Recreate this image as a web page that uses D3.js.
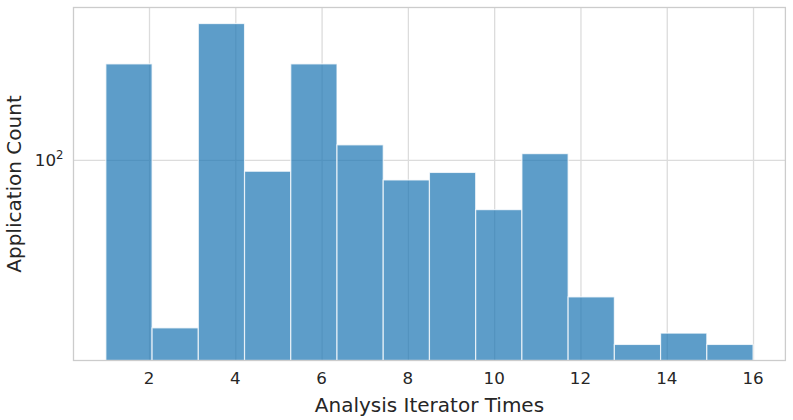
<!DOCTYPE html>
<html>
<head>
<meta charset="utf-8">
<script src="https://cdn.jsdelivr.net/npm/d3@7"></script>
<style>
  body { margin: 0; background: #fff; }
  text { font-family: "DejaVu Sans", sans-serif; fill: #262626; }
</style>
</head>
<body>
<svg id="chart" width="793" height="420"></svg>
<script>
// histogram data (log y axis)
var binStart = 1;
var binEnd = 16;
var counts = [244, 21, 355, 90, 244, 115, 83, 89, 63, 106, 28, 18, 20, 18];
var xTicks = [2, 4, 6, 8, 10, 12, 14, 16];
var yTicks = [100];

var plotLeft = 73.5, plotRight = 785.4, plotTop = 7.5, plotBottom = 360.5;

var binW = (binEnd - binStart) / counts.length;
var bins = counts.map(function (c, i) {
    return { x0: binStart + i * binW, x1: binStart + (i + 1) * binW, count: c };
});

// matplotlib style 5% margins
var xPad = (binEnd - binStart) * 0.05;
var xScale = d3.scaleLinear().domain([binStart - xPad, binEnd + xPad]).range([plotLeft, plotRight]);

var lo = Math.log10(d3.min(counts)), hi = Math.log10(d3.max(counts));
var lPad = (hi - lo) * 0.05;
var yScale = d3.scaleLog()
    .domain([Math.pow(10, lo - lPad), Math.pow(10, hi + lPad)])
    .range([plotBottom, plotTop]);

var svg = d3.select("#chart");

// grid
svg.append("g")
    .attr("class", "grid")
    .attr("transform", "translate(0," + plotBottom + ")")
    .call(d3.axisBottom(xScale).tickValues(xTicks).tickSize(-(plotBottom - plotTop)).tickFormat(""))
    .call(function (g) { g.select(".domain").remove(); })
    .selectAll("line").attr("stroke", "#dcdcdc").attr("stroke-width", 1.3);

svg.append("g")
    .attr("class", "grid")
    .attr("transform", "translate(" + plotLeft + ",0)")
    .call(d3.axisLeft(yScale).tickValues(yTicks).tickSize(-(plotRight - plotLeft)).tickFormat(""))
    .call(function (g) { g.select(".domain").remove(); })
    .selectAll("line").attr("stroke", "#dcdcdc").attr("stroke-width", 1.3);

// bars
svg.append("g")
    .selectAll("rect")
    .data(bins)
    .join("rect")
    .attr("x", function (d) { return xScale(d.x0); })
    .attr("width", function (d) { return xScale(d.x1) - xScale(d.x0); })
    .attr("y", function (d) { return yScale(d.count); })
    .attr("height", function (d) { return plotBottom - yScale(d.count); })
    .attr("fill", "#1f77b4")
    .attr("fill-opacity", 0.72)
    .attr("stroke", "#ffffff")
    .attr("stroke-opacity", 0.75)
    .attr("stroke-width", 1.2);

// frame
svg.append("rect")
    .attr("x", plotLeft).attr("y", plotTop)
    .attr("width", plotRight - plotLeft).attr("height", plotBottom - plotTop)
    .attr("fill", "none")
    .attr("stroke", "#cccccc")
    .attr("stroke-width", 1.3);

// tick labels
svg.append("g")
    .selectAll("text")
    .data(xTicks)
    .join("text")
    .attr("x", function (d) { return xScale(d); })
    .attr("y", 384)
    .attr("text-anchor", "middle")
    .style("font-size", "16.7px")
    .text(function (d) { return d; });

// 10^2 style labels
var yl = svg.append("g")
    .selectAll("text")
    .data(yTicks)
    .join("text")
    .attr("x", plotLeft - 10)
    .attr("y", function (d) { return yScale(d) + 6.5; })
    .attr("text-anchor", "end")
    .style("font-size", "16.7px");
yl.append("tspan").text("10");
yl.append("tspan")
    .attr("dy", -7)
    .style("font-size", "11.7px")
    .text(function (d) { return Math.round(Math.log10(d)); });

// axis titles
svg.append("text")
    .attr("x", (plotLeft + plotRight) / 2)
    .attr("y", 411.5)
    .attr("text-anchor", "middle")
    .style("font-size", "20px")
    .text("Analysis Iterator Times");

svg.append("text")
    .attr("transform", "translate(21," + (plotTop + plotBottom) / 2 + ") rotate(-90)")
    .attr("text-anchor", "middle")
    .style("font-size", "20px")
    .text("Application Count");
</script>
</body>
</html>
